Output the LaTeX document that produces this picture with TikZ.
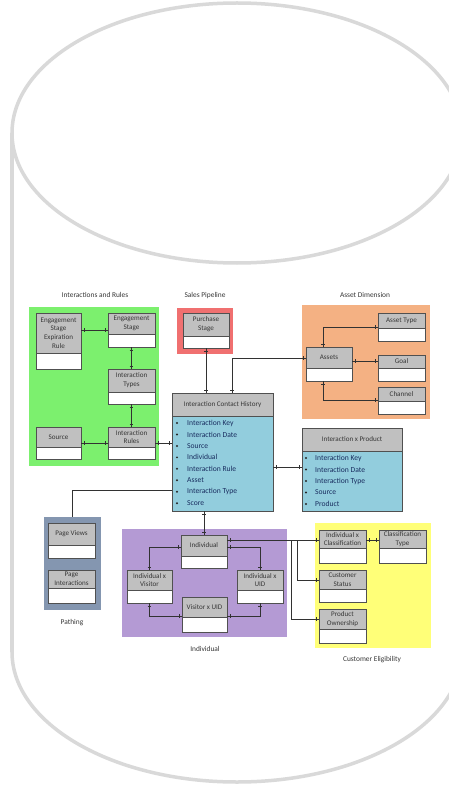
\documentclass[tikz,border=0pt]{standalone}
\usepackage{fontspec}
\setmainfont{Carlito}
\usetikzlibrary{fit,decorations.markings}
\definecolor{cyl}{RGB}{217,217,217}
\definecolor{hdr}{RGB}{192,192,192}
\definecolor{bodyc}{RGB}{146,205,221}
\definecolor{gGreen}{RGB}{124,240,110}
\definecolor{gRed}{RGB}{240,112,112}
\definecolor{gOrange}{RGB}{244,177,131}
\definecolor{gBlue}{RGB}{132,150,176}
\definecolor{gPurple}{RGB}{180,154,212}
\definecolor{gYellow}{RGB}{255,255,120}
\definecolor{boxc}{RGB}{80,80,80}
\definecolor{linec}{RGB}{50,50,50}
\definecolor{txt}{RGB}{55,55,55}
\definecolor{itm}{RGB}{25,45,95}
\tikzset{
 grp/.style={inner sep=0pt, draw=none},
 entb/.style={draw=boxc, line width=0.8pt, inner sep=0pt},
 htext/.style={font=\fontsize{7.1}{8.8}\selectfont, text=txt, align=center, inner sep=0pt},
 ttl/.style={font=\fontsize{7.4}{8.8}\selectfont, text=txt, inner sep=0pt},
 itext/.style={font=\fontsize{7.6}{8.8}\selectfont, text=itm, anchor=west, inner sep=0pt},
 bul/.style={circle, fill=black!85, inner sep=0pt, minimum size=2.2pt},
 barmk/.style={decoration={markings,
   mark=at position 2.5pt with {\draw[line width=0.5pt] (0,-1.8pt) -- (0,1.8pt);},
   mark=at position -2.5pt with {\draw[line width=0.5pt] (0,-1.8pt) -- (0,1.8pt);}}},
 endmk/.style={decoration={markings,
   mark=at position -2.5pt with {\draw[line width=0.5pt] (0,-1.8pt) -- (0,1.8pt);}}},
 conn/.style={draw=linec, line width=0.6pt, postaction={decorate}, barmk},
 connE/.style={draw=linec, line width=0.6pt, postaction={decorate}, endmk},
 connP/.style={draw=linec, line width=0.6pt},
}
\newcommand{\erbox}[7]{%
  \fill[hdr] (#2,#3) rectangle (#4,#5);
  \fill[white] (#2,#5) rectangle (#4,#6);
  \draw[boxc, line width=0.6pt] (#2,#5) -- (#4,#5);
  \node[entb, fit={(#2,#3)(#4,#6)}] (#1) {};
  \node[htext] (#1-t) at ({(#2+#4)/2},{(#3+#5)/2}) {#7};
}
\begin{document}
\begin{tikzpicture}[x=1pt,y=-1pt]
\useasboundingbox (0,0) rectangle (449,786);
\fill[white] (0,0) rectangle (449,786);
% cylinder
\begin{scope}
  \clip (0,0) rectangle (449,786);
  \draw[cyl, line width=3.5pt] (237,133) ellipse [x radius=225, y radius=130];
  \draw[cyl, line width=3.5pt] (12,133) -- (12,652);
  \begin{scope}
    \clip (-5,652) rectangle (460,790);
    \draw[cyl, line width=3.5pt] (237,652) ellipse [x radius=225, y radius=130];
  \end{scope}
\end{scope}

% group backgrounds
\node[grp, fill=gGreen, fit={(29,307)(159,466)}] (gIR) {};
\node[grp, fill=gRed, fit={(177,308)(233,354)}] (gSP) {};
\node[grp, fill=gOrange, fit={(302,305)(430,419)}] (gAD) {};
\node[grp, fill=gBlue, fit={(44,517)(101,610)}] (PTH) {};
\node[grp, fill=gPurple, fit={(122,529)(287,637)}] (gIN) {};
\node[grp, fill=gYellow, fit={(315,523)(431,648)}] (gCE) {};

% titles
\node[ttl] (tIR) at (95,295) {Interactions and Rules};
\node[ttl] (tSP) at (205,296) {Sales Pipeline};
\node[ttl] (tAD) at (365,295) {Asset Dimension};
\node[ttl] (tPT) at (72,623) {Pathing};
\node[ttl] (tIN) at (205,649) {Individual};
\node[ttl] (tCE) at (372,660) {Customer Eligibility};

% entities
\erbox{ESER}{36}{313}{81}{353}{369}{Engagement\\Stage\\Expiration\\Rule}
\erbox{ES}{108}{313}{155}{334}{347}{Engagement\\Stage}
\erbox{IT}{108}{369}{155}{392}{404}{Interaction\\Types}
\erbox{SRC}{36}{427}{81}{447}{459}{Source}
\erbox{IR}{108}{427}{155}{447}{459}{Interaction\\Rules}
\erbox{PS}{183}{313}{229}{336}{348}{Purchase\\Stage}
\erbox{AT}{378}{313}{425}{328}{341}{Asset Type}
\erbox{AS}{306}{347}{352}{368}{381}{Assets}
\erbox{GO}{378}{355}{425}{368}{381}{Goal}
\erbox{CH}{378}{387}{425}{401}{414}{Channel}
\erbox{PV}{48}{523}{95}{545}{558}{Page Views}
\erbox{PI}{48}{570}{95}{588}{603}{Page\\Interactions}
\erbox{IND}{181}{535}{227}{556}{568}{Individual}
\erbox{IXV}{127}{570}{172}{590}{603}{Individual x\\Visitor}
\erbox{IXU}{237}{570}{283}{590}{603}{Individual x\\UID}
\erbox{VXU}{182}{597}{227}{617}{632}{Visitor x UID}
\erbox{IXC}{319}{530}{366}{548}{563}{Individual x\\Classification}
\erbox{CT}{379}{530}{426}{548}{563}{Classification\\Type}
\erbox{CS}{319}{570}{366}{589}{602}{Customer\\Status}
\erbox{PO}{319}{609}{366}{629}{643}{Product\\Ownership}

% Interaction Contact History
\fill[hdr] (172,393) rectangle (273,416);
\fill[bodyc] (172,416) rectangle (273,511);
\draw[boxc, line width=0.6pt] (172,416) -- (273,416);
\node[entb, fit={(172,393)(273,511)}] (ICH) {};
\node[htext] (ICH-t) at (222.5,404.5) {Interaction Contact History};
\foreach \t [count=\i from 0] in {Interaction Key,Interaction Date,Source,Individual,Interaction Rule,Asset,Interaction Type,Score}{
  \node[bul] (ICHb\i) at (177,{423+11.45*\i}) {};
  \node[itext] (ICHi\i) at (187,{423+11.45*\i}) {\t};
}

% Interaction x Product
\fill[hdr] (302,428) rectangle (402,451);
\fill[bodyc] (302,451) rectangle (402,511);
\draw[boxc, line width=0.6pt] (302,451) -- (402,451);
\node[entb, fit={(302,428)(402,511)}] (IXP) {};
\node[htext] (IXP-t) at (352,439.5) {Interaction x Product};
\foreach \t [count=\i from 0] in {Interaction Key,Interaction Date,Interaction Type,Source,Product}{
  \node[bul] (IXPb\i) at (306,{458+11.5*\i}) {};
  \node[itext] (IXPi\i) at (315,{458+11.5*\i}) {\t};
}

% connectors
\draw[conn] (ESER.east |- ES.center) -- (ES.west);
\draw[conn] (ES.south) -- (IT.north);
\draw[conn] (IT.south) -- (IR.north);
\draw[conn] (SRC.east) -- (IR.west);
\draw[conn] (IR.east) -- (IR.east -| ICH.west);
\draw[conn] (PS.south) -- (PS.south |- ICH.north);
\draw[conn] (AS.west |- 0,358) -| (ICH.north -| 232,0);
\draw[conn] (AS.north -| 323,0) |- (AT.west);
\draw[conn] (AS.east |- 0,361) -- (GO.west |- 0,361);
\draw[conn] (AS.south -| 323,0) |- (CH.west |- 0,400);
\draw[conn] (ICH.east |- 0,467) -- (IXP.west |- 0,467);
\draw[connP] (ICH.west |- 0,490) -| (PTH.north);
\draw[conn] (ICH.south -| IND.north) -- (IND.north);
\draw[conn] (IND.west |- 0,547) -| (IXV.north);
\draw[conn] (IND.east |- 0,547) -| (IXU.north);
\draw[conn] (IXV.south) |- (VXU.west |- 0,616);
\draw[conn] (IXU.south) |- (VXU.east |- 0,616);
\draw[conn] (IND.east |- 0,540) -- (IXC.west |- 0,540);
\coordinate (j1) at (291,540);
\coordinate (j2) at (297,540);
\draw[connE] (j1) |- (PO.west |- 0,619);
\draw[connE] (j2) |- (CS.west |- 0,580);
\draw[conn] (IXC.east |- 0,540) -- (CT.west |- 0,540);
\end{tikzpicture}
\end{document}
